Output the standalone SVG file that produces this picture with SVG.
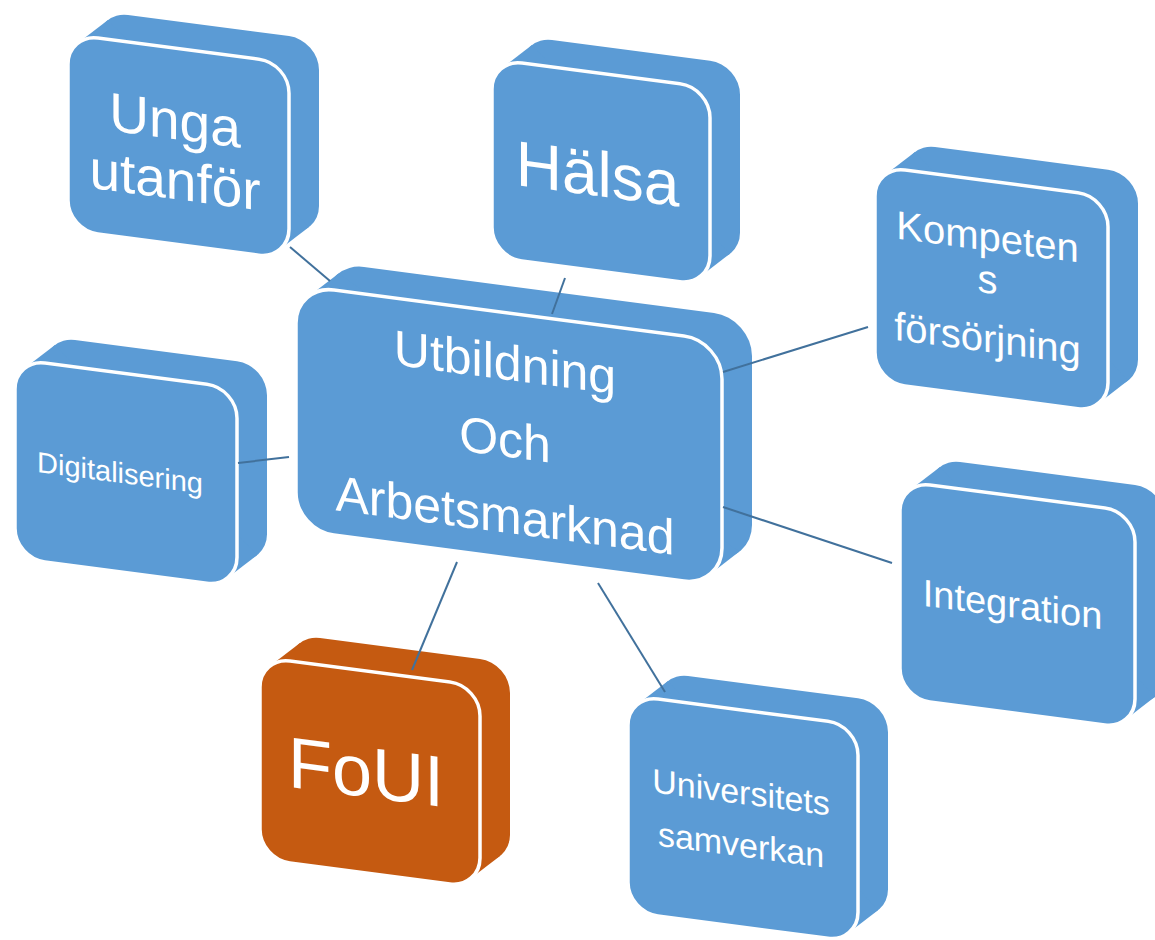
<svg xmlns="http://www.w3.org/2000/svg" width="1155" height="940" viewBox="0 0 1155 940">
<style>
.side{fill:#5B9BD5;stroke:none}
.face{fill:#5B9BD5;stroke:#FFFFFF;stroke-width:3.5}
.orange .side,.orange .face{fill:#C55A11}
.lbl{fill:#FFFFFF;font-family:"Liberation Sans",Arial,sans-serif;text-anchor:middle}
.conn line{stroke:#41719C;stroke-width:2;fill:none}
</style>
<rect x="0" y="0" width="1155" height="940" fill="#FFFFFF"/>

<g id="node-unga" transform="translate(68,34) skewY(7.5)">
  <rect class="side" x="30" y="-27" width="221" height="196" rx="30"/>
  <polygon class="side" points="10,7.7 40,-19.3 241,161.3 211,188.3"/>
  <rect class="face" x="0" y="0" width="221" height="196" rx="30"/>
  <text class="lbl" font-size="55"><tspan x="107" y="91">Unga</tspan><tspan x="107" y="151">utanför</tspan></text>
</g>

<g id="node-halsa" transform="translate(492,59) skewY(7.5)">
  <rect class="side" x="30" y="-27" width="218" height="198" rx="30"/>
  <polygon class="side" points="10,7.7 40,-19.3 238,163.3 208,190.3"/>
  <rect class="face" x="0" y="0" width="218" height="198" rx="30"/>
  <text class="lbl" font-size="64" x="105.5" y="123">Hälsa</text>
</g>

<g id="node-kompetens" transform="translate(875,166) skewY(7.5)">
  <rect class="side" x="30" y="-27" width="233" height="216" rx="30"/>
  <polygon class="side" points="10,7.7 40,-19.3 253,181.3 223,208.3"/>
  <rect class="face" x="0" y="0" width="233" height="216" rx="30"/>
  <text class="lbl" font-size="40"><tspan x="112.5" y="69.7">Kompeten</tspan><tspan x="112.5" y="112.2">s</tspan><tspan x="112.5" y="171.2">försörjning</tspan></text>
</g>

<g id="node-digitalisering" transform="translate(15,359) skewY(7.5)">
  <rect class="side" x="30" y="-27" width="222" height="199" rx="30"/>
  <polygon class="side" points="10,7.7 40,-19.3 242,164.3 212,191.3"/>
  <rect class="face" x="0" y="0" width="222" height="199" rx="30"/>
  <text class="lbl" font-size="29" x="105" y="110">Digitalisering</text>
</g>

<g id="node-center" transform="translate(296,285) skewY(7.5)">
  <rect class="side" x="30" y="-27" width="426" height="245" rx="38"/>
  <polygon class="side" points="12.6,9.8 42.6,-17.2 443.4,208.2 413.4,235.2"/>
  <rect class="face" x="0" y="0" width="426" height="245" rx="38"/>
  <text class="lbl" font-size="50"><tspan x="209" y="67">Utbildning</tspan><tspan x="209" y="144">Och</tspan><tspan x="209" y="220">Arbetsmarknad</tspan></text>
</g>

<g id="node-integration" transform="translate(900,481) skewY(7.5)">
  <rect class="side" x="30" y="-27" width="235" height="217" rx="30"/>
  <polygon class="side" points="10,7.7 40,-19.3 255,182.3 225,209.3"/>
  <rect class="face" x="0" y="0" width="235" height="217" rx="30"/>
  <text class="lbl" font-size="38" x="112.5" y="121.7">Integration</text>
</g>

<g id="node-universitets" transform="translate(628,695) skewY(7.5)">
  <rect class="side" x="30" y="-27" width="230" height="217" rx="30"/>
  <polygon class="side" points="10,7.7 40,-19.3 250,182.3 220,209.3"/>
  <rect class="face" x="0" y="0" width="230" height="217" rx="30"/>
  <text class="lbl" font-size="34"><tspan x="113" y="94">Universitets</tspan><tspan x="113" y="146.7">samverkan</tspan></text>
</g>

<g id="node-foui" class="orange" transform="translate(260,657) skewY(7.5)">
  <rect class="side" x="30" y="-27" width="220" height="202" rx="30"/>
  <polygon class="side" points="10,7.7 40,-19.3 240,167.3 210,194.3"/>
  <rect class="face" x="0" y="0" width="220" height="202" rx="30"/>
  <text class="lbl" font-size="72" x="106" y="126">FoUI</text>
</g>

<g id="connectors" class="conn">
  <line x1="290" y1="247" x2="330" y2="281"/>
  <line x1="565" y1="278" x2="552" y2="314"/>
  <line x1="868" y1="327" x2="723" y2="372"/>
  <line x1="238" y1="463" x2="289" y2="457"/>
  <line x1="892" y1="563" x2="723" y2="507"/>
  <line x1="457" y1="562" x2="412" y2="670"/>
  <line x1="598" y1="583" x2="665" y2="692"/>
</g>
</svg>
